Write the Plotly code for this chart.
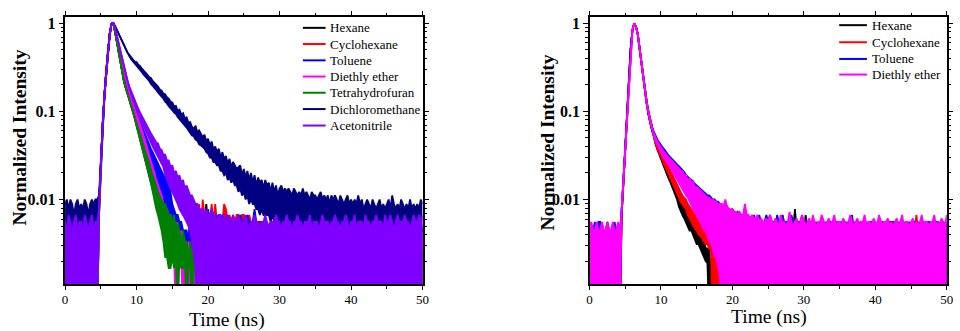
import numpy as np
import plotly.graph_objects as go

STEP_NS = 0.25
SERIF = "Liberation Serif, Times New Roman, serif"
LW = 1.8

# Each decay is digitised as the top and bottom edge of its noisy trace, in photon counts
# per 0.25 ns channel (peak channel = 900 counts).  0 = empty channel (drawn below the axis).

# ======================= left panel =======================
left_names = ["Hexane", "Cyclohexane", "Toluene", "Diethly ether",
              "Tetrahydrofuran", "Dichloromethane", "Acetonitrile"]
left_colors = ["#000000", "#FF0000", "#0000FF", "#FF00FF", "#008000", "#000080", "#8000FF"]

left_hexane_top = [
    3, 4, 3, 4, 3, 4, 4, 3, 4, 3,
    4, 3, 4, 4, 3, 4, 3, 4, 3, 8,
    23, 63, 135, 252, 450, 684, 890, 900, 720, 545,
    415, 322, 250, 195, 166, 144, 128, 111, 96, 83,
    72, 62, 53, 46, 40, 34, 29, 25, 22, 18,
    16, 14, 12, 10, 9, 9, 8, 8, 7, 7,
    5, 5, 4, 4, 4, 3, 4, 3, 3, 2,
    3, 2, 3, 2, 2, 3, 6, 5, 5, 8,
    5, 6, 4, 5, 6, 4, 5, 5, 4, 5,
    5, 4, 5, 4, 5, 5, 4, 5, 4, 5,
    4, 5, 4, 4, 5, 4, 5, 4, 4, 5,
    5, 4, 4, 5, 4, 5, 4, 4, 5, 4,
    4, 5, 4, 5, 4, 4, 5, 4, 4, 5,
    4, 4, 5, 4, 5, 4, 4, 5, 4, 4,
    5, 4, 4, 5, 4, 4, 5, 4, 5, 4,
    4, 5, 4, 4, 5, 4, 4, 5, 4, 5,
    4, 4, 5, 4, 4, 5, 4, 5, 4, 4,
    5, 4, 4, 5, 4, 4, 5, 4, 4, 5,
    4, 5, 4, 4, 5, 4, 4, 5, 4, 4,
    5, 4, 4, 5, 4, 5, 4, 4, 5, 4,
    4]
left_hexane_bottom = [
    0, 0, 0, 0, 0, 0, 0, 0, 0, 0,
    0, 0, 0, 0, 0, 0, 0, 0, 0, 8,
    23, 63, 135, 252, 450, 684, 890, 900, 720, 545,
    415, 322, 250, 195, 166, 144, 120, 103, 88, 75,
    62, 52, 43, 36, 30, 26, 21, 17, 14, 12,
    10, 8, 6.5, 5.5, 4.5, 4, 3.5, 3, 3, 2.5,
    2.5, 2, 2.5, 2, 2, 2, 2, 2, 2, 2,
    2, 2, 2, 2, 0, 0, 0, 0, 0, 0,
    0, 0, 0, 0, 0, 0, 0, 0, 0, 0,
    0, 0, 0, 0, 0, 0, 0, 0, 0, 0,
    0, 0, 0, 0, 0, 0, 0, 0, 0, 0,
    0, 0, 0, 0, 0, 0, 0, 0, 0, 0,
    0, 0, 0, 0, 0, 0, 0, 0, 0, 0,
    0, 0, 0, 0, 0, 0, 0, 0, 0, 0,
    0, 0, 0, 0, 0, 0, 0, 0, 0, 0,
    0, 0, 0, 0, 0, 0, 0, 0, 0, 0,
    0, 0, 0, 0, 0, 0, 0, 0, 0, 0,
    0, 0, 0, 0, 0, 0, 0, 0, 0, 0,
    0, 0, 0, 0, 0, 0, 0, 0, 0, 0,
    0, 0, 0, 0, 0, 0, 0, 0, 0, 0,
    0]

left_cyclohexane_top = [
    4, 3, 4, 3, 4, 4, 3, 4, 3, 4,
    3, 4, 3, 4, 4, 3, 4, 3, 3, 7,
    22, 62, 133, 250, 448, 680, 888, 900, 725, 552,
    420, 326, 252, 198, 170, 146, 132, 113, 99, 85,
    76, 65, 56, 48, 42, 36, 31, 27, 23, 20,
    18, 15, 13, 12, 10, 9, 9, 8, 8, 7,
    5, 5, 4, 4, 4, 3, 3, 3, 3, 2,
    8, 2, 3, 2, 3, 8, 4, 9, 6, 5,
    6, 5, 8, 5, 8, 5, 6, 5, 5, 8,
    7, 5, 6, 5, 5, 5, 6, 6, 5, 6,
    6, 5, 5, 6, 5, 4, 5, 5, 4, 5,
    4, 5, 5, 4, 4, 5, 4, 5, 4, 4,
    5, 4, 4, 5, 4, 5, 4, 4, 5, 4,
    4, 5, 4, 4, 5, 4, 5, 4, 4, 5,
    4, 4, 5, 4, 4, 5, 4, 4, 5, 4,
    5, 4, 4, 5, 4, 4, 5, 4, 4, 5,
    4, 5, 4, 4, 5, 4, 4, 5, 4, 4,
    4, 4, 5, 4, 5, 4, 4, 5, 4, 5,
    4, 5, 4, 4, 5, 4, 4, 5, 4, 4,
    5, 4, 4, 5, 4, 4, 5, 4, 5, 4,
    4]
left_cyclohexane_bottom = [
    0, 0, 0, 0, 0, 0, 0, 0, 0, 0,
    0, 0, 0, 0, 0, 0, 0, 0, 0, 7,
    22, 62, 133, 250, 448, 680, 888, 900, 725, 552,
    420, 326, 252, 198, 170, 146, 124, 105, 91, 77,
    66, 55, 46, 38, 32, 27, 23, 19, 15, 12,
    10, 8, 7, 5.5, 4.5, 4, 3.5, 3, 2.5, 2.5,
    2.5, 2, 2, 2.5, 2, 2, 2, 2, 2, 2,
    2, 2, 2, 2, 0, 0, 0, 0, 0, 0,
    0, 0, 0, 0, 0, 0, 0, 0, 0, 0,
    0, 0, 0, 0, 0, 0, 0, 0, 0, 0,
    0, 0, 0, 0, 0, 0, 0, 0, 0, 0,
    0, 0, 0, 0, 0, 0, 0, 0, 0, 0,
    0, 0, 0, 0, 0, 0, 0, 0, 0, 0,
    0, 0, 0, 0, 0, 0, 0, 0, 0, 0,
    0, 0, 0, 0, 0, 0, 0, 0, 0, 0,
    0, 0, 0, 0, 0, 0, 0, 0, 0, 0,
    0, 0, 0, 0, 0, 0, 0, 0, 0, 0,
    0, 0, 0, 0, 0, 0, 0, 0, 0, 0,
    0, 0, 0, 0, 0, 0, 0, 0, 0, 0,
    0, 0, 0, 0, 0, 0, 0, 0, 0, 0,
    0]

left_toluene_top = [
    3, 4, 4, 3, 4, 3, 4, 4, 3, 4,
    4, 3, 4, 3, 4, 4, 3, 4, 3, 7,
    22, 62, 134, 252, 450, 684, 890, 900, 740, 570,
    444, 345, 270, 215, 180, 155, 138, 121, 106, 94,
    84, 74, 66, 59, 53, 47, 42, 38, 34, 31,
    28, 25, 23, 21, 19, 17, 16, 14, 13, 11,
    8, 7, 6, 6, 5, 5, 4, 4, 4, 3,
    6, 3, 7, 3, 4, 3, 4, 3, 4, 3,
    7, 5, 6, 5, 5, 6, 5, 5, 6, 5,
    5, 6, 5, 5, 6, 5, 5, 5, 6, 5,
    5, 5, 6, 5, 5, 5, 7, 5, 5, 4,
    5, 4, 4, 5, 4, 4, 5, 4, 5, 4,
    4, 5, 4, 4, 5, 4, 4, 5, 4, 5,
    4, 4, 5, 4, 4, 5, 4, 4, 5, 4,
    5, 4, 4, 5, 4, 5, 4, 4, 5, 4,
    4, 5, 4, 4, 5, 4, 4, 5, 4, 4,
    5, 4, 4, 5, 4, 4, 5, 4, 4, 5,
    4, 5, 4, 4, 5, 4, 4, 5, 4, 4,
    5, 4, 4, 5, 4, 4, 5, 4, 5, 4,
    4, 5, 4, 5, 4, 4, 5, 4, 4, 5,
    4]
left_toluene_bottom = [
    0, 0, 0, 0, 0, 0, 0, 0, 0, 0,
    0, 0, 0, 0, 0, 0, 0, 0, 0, 7,
    22, 62, 134, 252, 450, 684, 890, 900, 740, 570,
    444, 345, 270, 215, 180, 155, 130, 113, 98, 86,
    74, 64, 56, 49, 43, 39, 34, 30, 26, 23,
    20, 17, 15, 13, 11, 10, 8, 7, 6, 5,
    4, 3.5, 3, 3, 2.5, 2.5, 2.5, 2, 2, 2,
    2, 2, 2, 2, 0, 0, 0, 0, 0, 0,
    0, 0, 0, 0, 0, 0, 0, 0, 0, 0,
    0, 0, 0, 0, 0, 0, 0, 0, 0, 0,
    0, 0, 0, 0, 0, 0, 0, 0, 0, 0,
    0, 0, 0, 0, 0, 0, 0, 0, 0, 0,
    0, 0, 0, 0, 0, 0, 0, 0, 0, 0,
    0, 0, 0, 0, 0, 0, 0, 0, 0, 0,
    0, 0, 0, 0, 0, 0, 0, 0, 0, 0,
    0, 0, 0, 0, 0, 0, 0, 0, 0, 0,
    0, 0, 0, 0, 0, 0, 0, 0, 0, 0,
    0, 0, 0, 0, 0, 0, 0, 0, 0, 0,
    0, 0, 0, 0, 0, 0, 0, 0, 0, 0,
    0, 0, 0, 0, 0, 0, 0, 0, 0, 0,
    0]

left_ether_top = [
    2, 3, 2, 3, 2, 2, 3, 2, 3, 2,
    3, 2, 2, 3, 2, 3, 2, 2, 3, 6,
    22, 62, 134, 252, 450, 684, 890, 900, 760, 600,
    484, 385, 310, 252, 208, 172, 145, 123, 106, 92,
    84, 73, 64, 56, 48, 41, 35, 29, 25, 21,
    18, 15, 13, 11, 10, 8, 8, 7, 6, 6,
    5, 4, 5, 4, 3, 4, 3, 3, 2, 3,
    2, 2, 3, 2, 2, 3, 2, 2, 3, 2,
    2, 3, 2, 2, 3, 2, 3, 2, 2, 3,
    2, 2, 3, 2, 3, 2, 2, 3, 2, 2,
    3, 2, 2, 3, 2, 2, 3, 2, 3, 2,
    2, 3, 2, 2, 3, 2, 2, 3, 2, 3,
    2, 2, 3, 2, 2, 3, 2, 2, 3, 2,
    3, 2, 2, 3, 2, 3, 2, 2, 3, 2,
    2, 3, 2, 2, 3, 2, 2, 3, 2, 2,
    3, 2, 3, 2, 2, 3, 2, 2, 3, 2,
    2, 3, 2, 3, 2, 2, 3, 2, 2, 3,
    2, 2, 3, 2, 2, 3, 2, 3, 2, 2,
    3, 2, 2, 3, 2, 2, 3, 2, 2, 3,
    2, 3, 2, 2, 3, 2, 2, 3, 2, 2,
    3]
left_ether_bottom = [
    0, 0, 0, 0, 0, 0, 0, 0, 0, 0,
    0, 0, 0, 0, 0, 0, 0, 0, 0, 6,
    22, 62, 134, 252, 450, 684, 890, 900, 760, 600,
    484, 385, 310, 252, 208, 172, 145, 123, 106, 92,
    76, 65, 56, 48, 40, 33, 27, 23, 19, 15,
    12, 11, 9, 7, 6, 5, 4, 3, 3, 2,
    2, 2, 0, 2, 1.5, 2, 0, 1.5, 2, 0,
    1.5, 0, 1.5, 0, 0, 0, 0, 0, 0, 0,
    0, 0, 0, 0, 0, 0, 0, 0, 0, 0,
    0, 0, 0, 0, 0, 0, 0, 0, 0, 0,
    0, 0, 0, 0, 0, 0, 0, 0, 0, 0,
    0, 0, 0, 0, 0, 0, 0, 0, 0, 0,
    0, 0, 0, 0, 0, 0, 0, 0, 0, 0,
    0, 0, 0, 0, 0, 0, 0, 0, 0, 0,
    0, 0, 0, 0, 0, 0, 0, 0, 0, 0,
    0, 0, 0, 0, 0, 0, 0, 0, 0, 0,
    0, 0, 0, 0, 0, 0, 0, 0, 0, 0,
    0, 0, 0, 0, 0, 0, 0, 0, 0, 0,
    0, 0, 0, 0, 0, 0, 0, 0, 0, 0,
    0, 0, 0, 0, 0, 0, 0, 0, 0, 0,
    0]

left_thf_top = [
    2, 3, 2, 2, 3, 2, 3, 2, 2, 3,
    2, 3, 2, 3, 2, 2, 3, 2, 2, 6,
    22, 62, 134, 250, 448, 682, 889, 900, 722, 548,
    415, 324, 252, 197, 165, 142, 122, 105, 90, 77,
    70, 60, 51, 44, 38, 32, 27, 23, 20, 17,
    15, 13, 11, 10, 9, 8, 8, 7, 6, 6,
    5, 6, 4, 5, 4, 3, 4, 3, 3, 2,
    3, 2, 3, 2, 2, 3, 2, 2, 3, 2,
    3, 2, 2, 3, 2, 2, 3, 2, 3, 2,
    2, 3, 2, 2, 3, 2, 2, 3, 2, 3,
    2, 2, 3, 2, 3, 2, 2, 3, 2, 2,
    3, 2, 2, 3, 2, 3, 2, 2, 3, 2,
    2, 3, 2, 2, 3, 2, 2, 3, 2, 3,
    2, 2, 3, 2, 2, 3, 2, 3, 2, 2,
    3, 2, 2, 3, 2, 2, 3, 2, 2, 3,
    2, 3, 2, 2, 3, 2, 2, 3, 2, 2,
    3, 2, 3, 2, 2, 3, 2, 2, 3, 2,
    2, 2, 3, 2, 3, 2, 2, 3, 2, 2,
    3, 2, 2, 3, 2, 2, 3, 2, 3, 2,
    2, 3, 2, 2, 3, 2, 3, 2, 2, 3,
    2]
left_thf_bottom = [
    0, 0, 0, 0, 0, 0, 0, 0, 0, 0,
    0, 0, 0, 0, 0, 0, 0, 0, 0, 6,
    22, 62, 134, 250, 448, 682, 889, 900, 722, 548,
    415, 324, 252, 197, 165, 142, 122, 105, 90, 77,
    62, 52, 43, 36, 30, 26, 21, 17, 14, 11,
    9, 7, 6, 5, 4, 3, 2, 2, 1.5, 1.5,
    2, 1.5, 2, 0, 2, 1.5, 1.5, 2, 0, 1.5,
    2, 0, 1.5, 1.5, 0, 0, 0, 0, 0, 0,
    0, 0, 0, 0, 0, 0, 0, 0, 0, 0,
    0, 0, 0, 0, 0, 0, 0, 0, 0, 0,
    0, 0, 0, 0, 0, 0, 0, 0, 0, 0,
    0, 0, 0, 0, 0, 0, 0, 0, 0, 0,
    0, 0, 0, 0, 0, 0, 0, 0, 0, 0,
    0, 0, 0, 0, 0, 0, 0, 0, 0, 0,
    0, 0, 0, 0, 0, 0, 0, 0, 0, 0,
    0, 0, 0, 0, 0, 0, 0, 0, 0, 0,
    0, 0, 0, 0, 0, 0, 0, 0, 0, 0,
    0, 0, 0, 0, 0, 0, 0, 0, 0, 0,
    0, 0, 0, 0, 0, 0, 0, 0, 0, 0,
    0, 0, 0, 0, 0, 0, 0, 0, 0, 0,
    0]

left_dcm_top = [
    8, 9, 7, 9, 8, 6, 8, 9, 7, 8,
    7, 9, 8, 6, 8, 9, 8, 9, 9, 10,
    24, 64, 136, 253, 451, 685, 891, 900, 837, 756,
    684, 621, 549, 495, 450, 414, 395, 368, 350, 332,
    328, 306, 294, 275, 263, 246, 236, 221, 216, 200,
    192, 180, 173, 160, 155, 143, 141, 130, 126, 116,
    114, 102, 104, 91, 94, 83, 86, 75, 77, 67,
    68, 60, 57, 62, 52, 55, 50, 46, 49, 41,
    44, 37, 41, 33, 36, 31, 34, 27, 31, 26,
    28, 23, 26, 21, 24, 22, 20, 21, 22, 17,
    20, 16, 19, 15, 18, 14, 17, 13, 16, 14,
    15, 12, 15, 13, 14, 11, 14, 11, 13, 10,
    12, 13, 11, 12, 11, 12, 11, 10, 12, 11,
    10, 11, 10, 12, 10, 11, 10, 9, 11, 10,
    10, 9, 10, 11, 9, 10, 9, 10, 8, 10,
    9, 10, 9, 8, 10, 9, 8, 9, 10, 8,
    9, 8, 9, 8, 10, 8, 9, 7, 8, 9,
    8, 7, 9, 8, 7, 8, 9, 7, 8, 7,
    8, 9, 7, 10, 8, 7, 8, 7, 9, 8,
    7, 8, 7, 9, 7, 8, 7, 8, 7, 9,
    8]
left_dcm_bottom = [
    3, 3, 3, 3, 3, 3, 3, 3, 3, 3,
    3, 3, 3, 3, 3, 3, 3, 3, 3, 8,
    24, 64, 136, 253, 451, 685, 891, 900, 837, 756,
    684, 621, 549, 495, 450, 414, 380, 352, 334, 316,
    296, 281, 264, 251, 236, 225, 211, 201, 186, 177,
    166, 158, 148, 141, 132, 126, 116, 111, 103, 99,
    93, 87, 84, 78, 74, 69, 66, 62, 59, 55,
    52, 48, 47, 43, 42, 38, 37, 35, 34, 31,
    30, 27, 27, 24, 24, 22, 22, 19, 19, 17,
    18, 15, 16, 14, 15, 13, 13, 11, 12, 10,
    11, 9, 10, 8, 9, 8, 8, 7, 7, 6,
    7, 6, 6, 6, 6, 5, 6, 5, 5, 5,
    5, 5, 5, 5, 5, 5, 5, 5, 4, 4,
    4, 4, 4, 4, 4, 4, 4, 4, 4, 4,
    4, 4, 4, 4, 4, 4, 4, 4, 4, 4,
    4, 4, 4, 4, 4, 4, 4, 4, 4, 4,
    4, 4, 4, 4, 4, 4, 4, 4, 4, 4,
    4, 4, 4, 4, 4, 4, 4, 4, 4, 4,
    4, 4, 4, 4, 4, 4, 4, 4, 4, 4,
    4, 4, 4, 4, 4, 4, 4, 4, 4, 4,
    4]

left_acn_top = [
    5, 4, 6, 5, 4, 5, 6, 4, 5, 5,
    4, 6, 5, 4, 5, 6, 4, 5, 5, 7,
    23, 63, 135, 252, 450, 684, 890, 900, 790, 650,
    530, 430, 350, 285, 232, 197, 172, 152, 133, 118,
    106, 96, 87, 79, 72, 66, 60, 55, 51, 47,
    44, 40, 39, 34, 33, 29, 29, 25, 25, 21,
    22, 18, 19, 16, 17, 14, 15, 12, 13, 11,
    10, 10, 9, 8, 8, 7, 7, 7, 6, 7,
    6, 6, 7, 6, 6, 5, 6, 6, 5, 6,
    5, 6, 5, 5, 6, 5, 5, 6, 5, 5,
    5, 6, 5, 4, 5, 5, 6, 5, 5, 4,
    5, 5, 6, 5, 4, 5, 5, 5, 6, 5,
    5, 4, 5, 5, 6, 5, 5, 4, 5, 5,
    6, 5, 5, 4, 5, 5, 5, 6, 4, 5,
    5, 5, 4, 5, 6, 5, 5, 5, 4, 5,
    5, 6, 5, 5, 4, 5, 5, 6, 5, 4,
    5, 5, 6, 4, 5, 5, 5, 4, 6, 5,
    5, 4, 5, 5, 6, 5, 5, 5, 4, 6,
    5, 5, 6, 5, 4, 5, 6, 5, 5, 5,
    6, 5, 5, 4, 5, 6, 5, 5, 6, 5,
    6]
left_acn_bottom = [
    0, 0, 0, 0, 0, 0, 0, 0, 0, 0,
    0, 0, 0, 0, 0, 0, 0, 0, 0, 7,
    23, 63, 135, 252, 450, 684, 890, 900, 790, 650,
    530, 430, 350, 285, 232, 197, 164, 141, 121, 106,
    94, 84, 75, 67, 60, 54, 48, 44, 40, 36,
    33, 30, 27, 25, 23, 21, 17, 15, 13, 12,
    11, 10, 9, 8, 7, 6.5, 6, 5.5, 5, 4.5,
    4, 3, 2, 1.5, 0, 0, 0, 0, 0, 0,
    0, 0, 1.5, 0, 0, 0, 0, 0, 0, 0,
    0, 0, 0, 0, 0, 1.5, 0, 0, 0, 0,
    0, 0, 0, 0, 0, 0, 0, 0, 0, 0,
    0, 0, 0, 0, 0, 0, 0, 0, 1.5, 0,
    0, 0, 0, 0, 0, 0, 0, 0, 0, 0,
    0, 1.5, 0, 0, 0, 0, 0, 0, 0, 0,
    0, 0, 0, 0, 0, 0, 0, 0, 1.5, 0,
    0, 0, 1.5, 0, 0, 0, 0, 0, 0, 0,
    0, 0, 0, 0, 0, 0, 0, 0, 0, 0,
    0, 0, 0, 0, 0, 1.5, 0, 0, 0, 0,
    0, 0, 0, 0, 0, 0, 0, 0, 0, 0,
    0, 0, 0, 0, 0, 0, 0, 0, 0, 0,
    0]

# ======================= right panel =======================
right_names = ["Hexane", "Cyclohexane", "Toluene", "Diethly ether"]
right_colors = ["#000000", "#FF0000", "#0000FF", "#FF00FF"]

right_hexane_top = [
    3, 4, 3, 4, 3, 3, 4, 3, 4, 3,
    3, 4, 4, 3, 3, 4, 3, 3, 6, 15,
    32, 80, 195, 450, 750, 900, 828, 675, 468, 315,
    209, 149, 110, 83, 67, 54, 48, 42, 37, 33,
    30, 27, 24, 21.5, 19, 17, 15.5, 14, 12.5, 11.5,
    10.5, 9.5, 9, 8.5, 7.5, 7, 6.5, 6, 5, 4.5,
    4, 4, 3.5, 3, 3, 2.5, 2.5, 2.5, 1.2, 2,
    1.2, 2.5, 1.5, 3, 4, 5, 4, 4, 5, 4,
    4, 5, 4, 4, 5, 4, 5, 4, 4, 5,
    4, 4, 5, 4, 5, 4, 4, 5, 4, 4,
    5, 4, 4, 5, 4, 4, 5, 4, 6, 4,
    5, 4, 4, 5, 4, 7, 4, 4, 5, 4,
    4, 6, 4, 5, 4, 4, 5, 4, 4, 5,
    4, 5, 4, 4, 5, 4, 4, 5, 4, 4,
    5, 4, 4, 5, 4, 5, 4, 4, 5, 4,
    4, 5, 4, 4, 5, 4, 4, 5, 4, 5,
    4, 4, 5, 4, 4, 5, 4, 4, 5, 4,
    5, 4, 4, 5, 4, 4, 5, 4, 4, 5,
    4, 5, 4, 4, 5, 4, 4, 5, 4, 4,
    5, 4, 4, 5, 4, 5, 4, 4, 5, 4,
    4]
right_hexane_bottom = [
    0, 0, 0, 0, 0, 0, 0, 0, 0, 0,
    0, 0, 0, 0, 0, 0, 0, 0, 6, 15,
    32, 80, 195, 450, 750, 900, 828, 675, 468, 315,
    209, 149, 110, 83, 67, 54, 44, 38, 33, 29,
    26, 23, 20.5, 18, 16, 14.5, 13, 11.5, 10.5, 9,
    7.5, 6.5, 6, 5.5, 5, 4.5, 4, 4, 3.5, 3.2,
    2.8, 2.8, 2.5, 2.2, 2, 1.8, 1.7, 0, 0, 0,
    0, 0, 0, 0, 0, 0, 0, 0, 0, 0,
    0, 0, 0, 0, 0, 0, 0, 0, 0, 0,
    0, 0, 0, 0, 0, 0, 0, 0, 0, 0,
    0, 0, 0, 0, 0, 0, 0, 0, 0, 0,
    0, 0, 0, 0, 0, 0, 0, 0, 0, 0,
    0, 0, 0, 0, 0, 0, 0, 0, 0, 0,
    0, 0, 0, 0, 0, 0, 0, 0, 0, 0,
    0, 0, 0, 0, 0, 0, 0, 0, 0, 0,
    0, 0, 0, 0, 0, 0, 0, 0, 0, 0,
    0, 0, 0, 0, 0, 0, 0, 0, 0, 0,
    0, 0, 0, 0, 0, 0, 0, 0, 0, 0,
    0, 0, 0, 0, 0, 0, 0, 0, 0, 0,
    0, 0, 0, 0, 0, 0, 0, 0, 0, 0,
    0]

right_cyclohexane_top = [
    5, 4, 3, 4, 4, 3, 4, 3, 4, 4,
    3, 4, 3, 4, 4, 3, 4, 3, 6, 15,
    32, 80, 195, 450, 750, 900, 830, 678, 472, 318,
    211, 152, 111, 87, 66, 57, 50, 44, 39, 35,
    32, 29, 26, 23.5, 21, 19, 17.5, 16, 14.5, 13,
    12, 11, 10, 9.5, 9, 8, 7.5, 7, 6.5, 6,
    5.5, 5, 5, 4.5, 4.5, 4, 4.5, 4, 4, 3.5,
    4, 3.5, 4, 4, 4.5, 4, 5, 4, 4, 5,
    4, 5, 4, 4, 5, 4, 4, 5, 4, 4,
    5, 4, 4, 5, 4, 5, 4, 4, 5, 4,
    4, 5, 4, 4, 5, 4, 4, 5, 4, 4,
    5, 4, 4, 5, 4, 4, 5, 4, 5, 4,
    4, 5, 4, 4, 5, 4, 4, 5, 4, 4,
    5, 4, 5, 4, 4, 5, 4, 4, 5, 4,
    4, 5, 4, 4, 5, 4, 5, 4, 4, 5,
    4, 4, 5, 4, 4, 5, 4, 4, 5, 4,
    5, 4, 4, 5, 4, 4, 5, 4, 4, 5,
    4, 5, 4, 4, 5, 4, 4, 5, 4, 4,
    5, 4, 4, 6, 4, 5, 4, 4, 5, 4,
    4, 5, 4, 4, 5, 4, 5, 4, 4, 5,
    4]
right_cyclohexane_bottom = [
    0, 0, 0, 0, 0, 0, 0, 0, 0, 0,
    0, 0, 0, 0, 0, 0, 0, 0, 6, 15,
    32, 80, 195, 450, 750, 900, 830, 678, 472, 318,
    211, 152, 111, 87, 66, 57, 45, 39, 34, 30,
    27.5, 24.5, 22, 20, 17.5, 16, 14.5, 13, 11.5, 10.5,
    9.5, 8.5, 8, 7.5, 7, 6, 5.5, 5, 4.5, 4.2,
    4, 3.6, 3.5, 3.2, 3, 2.8, 2.8, 2.5, 2.4, 0,
    2.2, 0, 2, 0, 0, 0, 0, 0, 0, 0,
    0, 0, 0, 0, 0, 0, 0, 0, 0, 0,
    0, 0, 0, 0, 0, 0, 0, 0, 0, 0,
    0, 0, 0, 0, 0, 0, 0, 0, 0, 0,
    0, 0, 0, 0, 0, 0, 0, 0, 0, 0,
    0, 0, 0, 0, 0, 0, 0, 0, 0, 0,
    0, 0, 0, 0, 0, 0, 0, 0, 0, 0,
    0, 0, 0, 0, 0, 0, 0, 0, 0, 0,
    0, 0, 0, 0, 0, 0, 0, 0, 0, 0,
    0, 0, 0, 0, 0, 0, 0, 0, 0, 0,
    0, 0, 0, 0, 0, 0, 0, 0, 0, 0,
    0, 0, 0, 0, 0, 0, 0, 0, 0, 0,
    0, 0, 0, 0, 0, 0, 0, 0, 0, 0,
    0]

right_toluene_top = [
    4, 3, 4, 5, 4, 5, 5, 4, 3, 4,
    5, 4, 4, 3, 5, 4, 4, 3, 7, 16,
    33, 81, 196, 451, 752, 900, 832, 682, 478, 324,
    218, 156, 118, 90, 72, 60, 53, 47, 43, 40,
    37, 35, 33, 30.5, 29, 27.5, 26, 24.5, 23.5, 22.5,
    21.5, 20.5, 19.5, 18.5, 17, 16, 15.5, 15, 14.5, 13.5,
    13, 12.5, 12, 11.5, 11, 10.5, 10, 10, 9.5, 9,
    9, 8.5, 8.5, 8, 8, 7.5, 7, 7.5, 7, 6.5,
    7, 6.5, 6, 6.5, 6, 6, 5.5, 6, 5.5, 5.5,
    5.5, 5, 6, 5, 5, 6, 5, 5, 5, 6,
    5, 6, 5, 5, 4, 6, 5, 5, 6, 5,
    5, 5, 4, 6, 5, 5, 4, 5, 5, 6,
    4, 5, 5, 4, 5, 5, 4, 5, 4, 5,
    5, 4, 5, 4, 5, 5, 4, 5, 5, 4,
    4, 5, 5, 4, 5, 4, 5, 6, 4, 5,
    5, 4, 5, 5, 4, 5, 4, 5, 5, 4,
    4, 5, 4, 5, 5, 4, 5, 4, 5, 5,
    5, 4, 5, 4, 5, 5, 4, 5, 4, 5,
    4, 5, 5, 4, 5, 4, 5, 5, 4, 5,
    5, 4, 5, 4, 5, 5, 4, 5, 5, 4,
    5]
right_toluene_bottom = [
    0, 0, 0, 0, 0, 0, 0, 0, 0, 0,
    0, 0, 0, 0, 0, 0, 0, 0, 7, 16,
    33, 81, 196, 451, 752, 900, 832, 682, 478, 324,
    218, 156, 118, 90, 72, 60, 50, 44, 40, 37,
    32, 30, 28, 26, 24, 23, 21.5, 20, 18, 17,
    16, 15, 14, 13, 12, 11, 10, 10, 9.5, 9,
    8, 7, 6, 5.5, 5, 5, 4.5, 4, 4, 3.5,
    3, 2.5, 2, 1.5, 0, 0, 0, 0, 0, 0,
    0, 0, 0, 0, 0, 0, 0, 0, 0, 0,
    0, 0, 0, 0, 0, 0, 0, 0, 0, 0,
    0, 0, 0, 0, 0, 0, 0, 0, 0, 0,
    0, 0, 0, 0, 0, 0, 0, 0, 0, 0,
    0, 0, 0, 0, 0, 0, 0, 0, 0, 0,
    0, 0, 0, 0, 0, 0, 0, 0, 0, 0,
    0, 0, 0, 0, 0, 0, 0, 0, 0, 0,
    0, 0, 0, 0, 0, 0, 0, 0, 0, 0,
    0, 0, 0, 0, 0, 0, 0, 0, 0, 0,
    0, 0, 0, 0, 0, 0, 0, 0, 0, 0,
    0, 0, 0, 0, 0, 0, 0, 0, 0, 0,
    0, 0, 0, 0, 0, 0, 0, 0, 0, 0,
    0]

right_ether_top = [
    4, 5, 4, 4, 5, 4, 4, 5, 4, 4,
    5, 4, 4, 5, 4, 4, 5, 4, 7, 16,
    33, 81, 196, 451, 752, 900, 830, 680, 475, 320,
    213, 153, 113, 88, 69, 57, 51, 45, 41, 38,
    35, 33, 31, 29, 27.5, 26, 25, 23.5, 22.5, 21.5,
    20.5, 19, 19, 17, 17, 15, 15.5, 14, 14.5, 12.5,
    12.5, 12, 11.5, 11, 10.5, 10, 9.5, 9.5, 9, 9,
    8.5, 8.5, 8, 8, 8, 7.5, 9, 7.5, 7, 7,
    7, 6.5, 6.5, 6, 6.5, 6, 6, 8, 6, 6,
    5.5, 6, 5.5, 5.5, 6, 5, 5.5, 5, 5, 5.5,
    5, 6, 5, 4.5, 5.5, 5, 4.5, 6, 5, 5,
    4.5, 5, 6.5, 5, 4.5, 5, 5.5, 4.5, 5, 6,
    5, 4.5, 5, 5.5, 4.5, 6, 5, 4.5, 5, 5,
    6, 5, 4.5, 5, 5.5, 4.5, 5, 6, 4.5, 5,
    5, 4.5, 5.5, 5, 4.5, 5, 6, 5, 4.5, 5,
    5.5, 4.5, 5, 5, 6, 4.5, 5, 5, 4.5, 5.5,
    5, 4.5, 6, 5, 4.5, 5, 5, 5.5, 4.5, 5,
    4.5, 5, 5.5, 4.5, 5, 6, 4.5, 5, 5, 4.5,
    5, 5.5, 4.5, 5, 4.5, 5, 6, 4.5, 5, 5,
    4.5, 5, 5, 6, 4.5, 5, 4.5, 5.5, 5, 4.5,
    6]
right_ether_bottom = [
    0, 0, 0, 0, 0, 0, 0, 0, 0, 0,
    0, 0, 0, 0, 0, 0, 0, 0, 7, 16,
    33, 81, 196, 451, 752, 900, 830, 680, 475, 320,
    213, 153, 113, 88, 69, 57, 47, 41, 37, 34,
    30, 28, 26, 24, 22, 21, 19.5, 18, 16, 15,
    14, 13, 12, 11, 10, 9.5, 8.5, 8, 7, 6.5,
    6, 5.5, 5, 4.5, 4, 4, 3.5, 3, 3, 2.5,
    2, 2, 1.5, 1.2, 0, 0, 0, 0, 0, 0,
    0, 0, 0, 0, 0, 0, 0, 0, 0, 0,
    0, 0, 0, 0, 0, 0, 0, 0, 0, 0,
    0, 0, 0, 0, 0, 0, 0, 0, 0, 0,
    0, 0, 0, 0, 0, 0, 0, 0, 0, 0,
    0, 0, 0, 0, 0, 0, 0, 0, 0, 0,
    0, 0, 0, 0, 0, 0, 0, 0, 0, 0,
    0, 0, 0, 0, 0, 0, 0, 0, 0, 0,
    0, 0, 0, 0, 0, 0, 0, 0, 0, 0,
    0, 0, 0, 0, 0, 0, 0, 0, 0, 0,
    0, 0, 0, 0, 0, 0, 0, 0, 0, 0,
    0, 0, 0, 0, 0, 0, 0, 0, 0, 0,
    0, 0, 0, 0, 0, 0, 0, 0, 0, 0,
    0]

left_series = [(left_hexane_top, left_hexane_bottom), (left_cyclohexane_top, left_cyclohexane_bottom),
               (left_toluene_top, left_toluene_bottom), (left_ether_top, left_ether_bottom),
               (left_thf_top, left_thf_bottom), (left_dcm_top, left_dcm_bottom),
               (left_acn_top, left_acn_bottom)]
right_series = [(right_hexane_top, right_hexane_bottom), (right_cyclohexane_top, right_cyclohexane_bottom),
                (right_toluene_top, right_toluene_bottom), (right_ether_top, right_ether_bottom)]

x_ticks = [0, 10, 20, 30, 40, 50]
x_minor = [5, 15, 25, 35, 45]
y_ticks = [0.01, 0.1, 1]
y_ticklabels = ["0.01", "0.1", "1"]

# ---------------- geometry (pixels of the 960x331 canvas) ----------------
W, H = 960, 331
def px(x):
    return x / W
def py(y):
    return 1 - y / H

fig = go.Figure()

def add_panel(series, names, colors, xa, ya):
    for (top, bottom), name, color in zip(series, names, colors):
        top = np.asarray(top, dtype=float)
        bottom = np.asarray(bottom, dtype=float)
        peak = top.max()
        t = np.arange(len(top)) * STEP_NS
        lo = np.maximum(bottom, 0.4) / peak   # empty channels fall below the axis floor
        hi = np.maximum(top, 0.4) / peak
        fig.add_trace(go.Scatter(x=t, y=lo, mode="lines", name=name, showlegend=False,
                                 line=dict(color=color, width=LW),
                                 xaxis=xa, yaxis=ya, hoverinfo="skip"))
        fig.add_trace(go.Scatter(x=t, y=hi, mode="lines", name=name, showlegend=False,
                                 line=dict(color=color, width=LW),
                                 fill="tonexty", fillcolor=color,
                                 xaxis=xa, yaxis=ya, hoverinfo="skip"))

add_panel(left_series, left_names, left_colors, "x", "y")
add_panel(right_series, right_names, right_colors, "x2", "y2")

minor_y = [m * d for d in (0.001, 0.01, 0.1) for m in range(2, 10)]

def xaxis(domain, anchor):
    return dict(domain=domain, anchor=anchor, range=[0, 50], tickmode="array",
                tickvals=x_ticks, ticktext=[str(v) for v in x_ticks],
                ticks="outside", ticklen=4, tickwidth=1.3, tickcolor="black",
                ticklabelstandoff=-2,
                showline=True, linewidth=1.6, linecolor="black", mirror="ticks",
                showgrid=False, zeroline=False,
                tickfont=dict(family=SERIF, size=13, color="black"),
                minor=dict(tickmode="array", tickvals=x_minor, ticks="outside",
                           ticklen=2.5, tickwidth=1.1, tickcolor="black", showgrid=False))

def yaxis(domain, anchor):
    return dict(domain=domain, anchor=anchor, type="log", range=[-2.9626, 0.0733],
                tickmode="array", tickvals=y_ticks,
                ticktext=["<b>%s</b>" % s for s in y_ticklabels],
                ticks="outside", ticklen=4.5, tickwidth=1.3, tickcolor="black",
                showline=True, linewidth=1.6, linecolor="black", mirror="ticks",
                showgrid=False, zeroline=False,
                tickfont=dict(family=SERIF, size=16, color="black"),
                minor=dict(tickmode="array", tickvals=minor_y, ticks="outside",
                           ticklen=2.5, tickwidth=1.1, tickcolor="black", showgrid=False))

ydom = [py(284), py(15)]
fig.update_layout(
    width=W, height=H, autosize=False,
    margin=dict(l=0, r=0, t=0, b=0),
    paper_bgcolor="white", plot_bgcolor="white",
    xaxis=xaxis([px(62.7), px(424)], "y"),
    yaxis=yaxis(ydom, "x"),
    xaxis2=xaxis([px(592.7), px(953.7)], "y2"),
    yaxis2=yaxis(ydom, "x2"),
)

annotations = []
shapes = []

for (cx, cy) in [(17, 136.5), (550, 141)]:
    annotations.append(dict(text="<b>Normalized Intensity</b>", x=px(cx), y=py(cy),
                            xref="paper", yref="paper", xanchor="center", yanchor="middle",
                            textangle=-90, showarrow=False,
                            font=dict(family=SERIF, size=19.5, color="black")))
for (cx, cy) in [(226.7, 320), (774, 317)]:
    annotations.append(dict(text="Time (ns)", x=px(cx), y=py(cy),
                            xref="paper", yref="paper", xanchor="center", yanchor="middle",
                            showarrow=False,
                            font=dict(family=SERIF, size=19.5, color="black")))

def legend(names, colors, x0, x1, xtext, rows):
    for name, color, yrow in zip(names, colors, rows):
        shapes.append(dict(type="line", xref="paper", yref="paper",
                           x0=px(x0), x1=px(x1), y0=py(yrow), y1=py(yrow),
                           line=dict(color=color, width=2)))
        annotations.append(dict(text=name, x=px(xtext), y=py(yrow),
                                xref="paper", yref="paper", xanchor="left", yanchor="middle",
                                showarrow=False,
                                font=dict(family=SERIF, size=13, color="black")))

legend(left_names, left_colors, 303, 326, 328,
       [26, 42.3, 58.7, 75, 91.3, 107.7, 124.3])
legend(right_names, right_colors, 845, 873, 876.5,
       [23.3, 40.5, 57.3, 73])

fig.update_layout(annotations=annotations, shapes=shapes)

fig.write_html("out.html")
